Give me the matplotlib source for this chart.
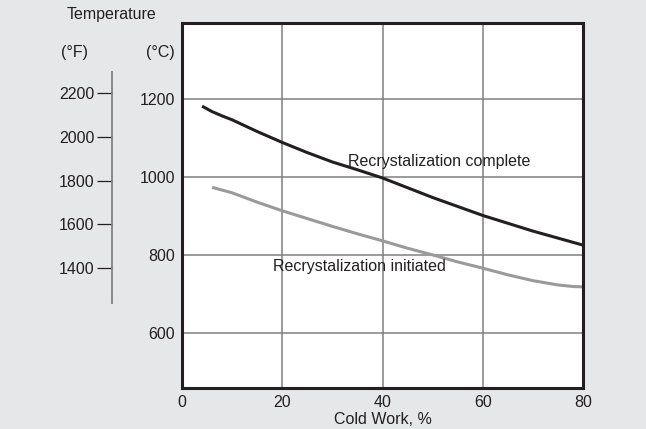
import matplotlib
matplotlib.use("Agg")
import matplotlib.pyplot as plt

plt.rcParams['font.family'] = ['Liberation Sans', 'DejaVu Sans']

# Data
complete_x = [4, 5, 6, 8, 10, 15, 20, 25, 30, 35, 40, 45, 50, 55, 60, 65, 70, 75, 80]
complete_c = [1182, 1175, 1168, 1157, 1147, 1117, 1089, 1063, 1039, 1019, 998, 973,
              948, 925, 902, 882, 862, 844, 826]
initiated_x = [6, 10, 15, 20, 25, 30, 35, 40, 45, 50, 55, 60, 65, 70, 75, 78, 80]
initiated_c = [974, 960, 936, 914, 894, 874, 855, 837, 818, 801, 783, 767, 750, 735,
               724, 720, 719]
x_ticks = [0, 20, 40, 60, 80]
c_ticks = [600, 800, 1000, 1200]
f_ticks = [1400, 1600, 1800, 2000, 2200]

W, H = 646, 429
BG = '#e6e7e8'
DARK = '#231f20'
GRID = '#808080'
FS = 11.5

fig = plt.figure(figsize=(W / 100, H / 100), dpi=100, facecolor=BG)

def fx(px):
    return px / W

def fy(py):
    return 1 - py / H

L, R, T, B = 182, 583, 23, 388
ax = fig.add_axes([fx(L), fy(B), (R - L) / W, (B - T) / H])
ax.set_facecolor('white')

ax.plot(complete_x, complete_c, color=DARK, lw=2.2, solid_capstyle='butt',
        solid_joinstyle='round', zorder=3)
ax.plot(initiated_x, initiated_c, color='#9a9a9a', lw=2.2, solid_capstyle='butt',
        solid_joinstyle='round', zorder=3)

ax.set_xlim(0, 80)
ax.set_ylim(460, 1395)
ax.set_xticks(x_ticks)
ax.set_yticks(c_ticks)
ax.grid(True, color=GRID, lw=1.1)
ax.tick_params(length=0, labelsize=FS, labelcolor=DARK, pad=5)
for s in ax.spines.values():
    s.set_linewidth(2.2)
    s.set_color(DARK)
    s.set_zorder(4)

ax.text(33.2, 1041, 'Recrystalization complete', fontsize=FS, color=DARK,
        ha='left', va='center', zorder=5)
ax.text(18.1, 772, 'Recrystalization initiated', fontsize=FS, color=DARK,
        ha='left', va='center', zorder=5)

# Fahrenheit axis
axf = fig.add_axes([fx(112), fy(B), 0.001, (B - T) / H])
axf.patch.set_visible(False)
for k in ['top', 'right', 'bottom']:
    axf.spines[k].set_visible(False)
s = (268 - 93) / 800.0
ftop = 2200 + (93 - T) / s
fbot = 1400 - (B - 268) / s
axf.set_ylim(fbot, ftop)
axf.set_yticks(f_ticks)
axf.set_xticks([])
axf.spines['left'].set_bounds(2200 + (93 - 72) / s, 1400 - (303 - 268) / s)
axf.spines['left'].set_color(GRID)
axf.spines['left'].set_linewidth(1.3)
axf.tick_params(axis='y', direction='out', length=10.8, width=0.9, color=DARK,
                labelsize=FS, labelcolor=DARK, pad=2)

fig.text(fx(111), fy(15), 'Temperature', fontsize=FS, color=DARK, ha='center', va='center')
fig.text(fx(75), fy(53), '(°F)', fontsize=FS, color=DARK, ha='center', va='center')
fig.text(fx(160), fy(53), '(°C)', fontsize=FS, color=DARK, ha='center', va='center')
fig.text(fx(383), fy(419), 'Cold Work, %', fontsize=FS, color=DARK, ha='center', va='center')

fig.savefig('out.png', dpi=100, facecolor=BG)
